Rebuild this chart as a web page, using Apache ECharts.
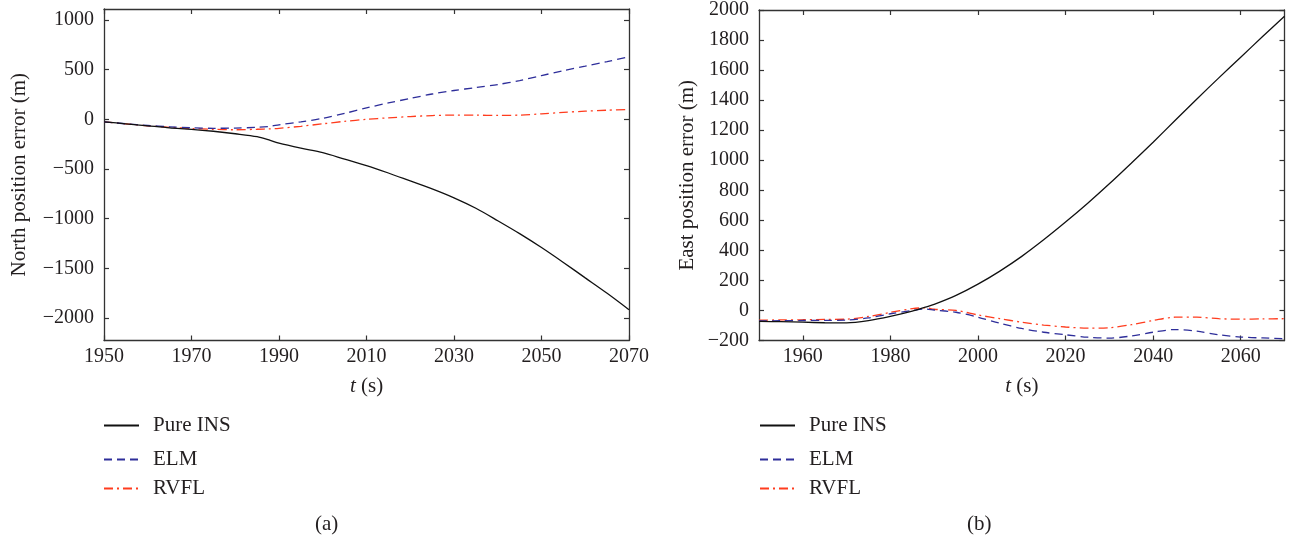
<!DOCTYPE html>
<html>
<head>
<meta charset="utf-8">
<script src="https://cdn.jsdelivr.net/npm/echarts@6/dist/echarts.min.js"></script>
<style>html,body{margin:0;padding:0;background:#fff}#c{width:1292px;height:543px}</style>
</head>
<body>
<div id="c"></div>
<script>
// time stamps (s)
const times = [1950,1955,1960,1965,1970,1975,1980,1985,1988,1990,1995,2000,2005,2010,2015,2020,2025,2030,2035,2040,2045,2050,2055,2060,2065,2070];

// (a) North position error (m)
const northINS  = [-25,-45,-65,-85,-100,-120,-145,-175,-212,-240,-290,-335,-400,-465,-540,-620,-700,-790,-895,-1020,-1150,-1290,-1440,-1595,-1750,-1915];
const northELM  = [-25,-45,-62,-75,-85,-90,-88,-80,-70,-55,-25,10,60,115,165,210,255,290,320,350,390,440,490,535,580,630];
const northRVFL = [-25,-45,-65,-80,-92,-100,-105,-100,-95,-90,-70,-45,-20,0,15,28,38,43,42,40,42,55,70,82,92,100];

// (b) East position error (m)
const eastINS  = [-73,-75,-78,-82,-83,-68,-40,-5,22,40,100,175,262,360,470,588,712,843,980,1120,1264,1408,1548,1686,1823,1958];
const eastELM  = [-70,-68,-67,-66,-64,-50,-22,0,10,3,-12,-45,-85,-120,-145,-162,-178,-184,-170,-145,-127,-138,-162,-177,-183,-188];
const eastRVFL = [-65,-63,-62,-60,-58,-40,-13,12,18,8,0,-30,-55,-78,-97,-110,-118,-115,-95,-67,-45,-45,-55,-58,-56,-55];

// tick labels
const northXTicks = [1950,1970,1990,2010,2030,2050,2070];
const northYTicks = [-2000,-1500,-1000,-500,0,500,1000];
const eastXTicks  = [1960,1980,2000,2020,2040,2060];
const eastYTicks  = [-200,0,200,400,600,800,1000,1200,1400,1600,1800,2000];

const seriesNames = ['Pure INS','ELM','RVFL'];
const pair = (v) => times.map((t,i)=>[t,v[i]]);

const FONT = 'Liberation Serif';
const TXT = '#231f20';
const AX = '#333333';
const COLORS = ['#111111','#2e2e9a','#ff3c1e'];
const TYPES = ['solid',[8,5],[9,4,2,4]];
const fmt = v => String(v).replace('-', '\u2212');

function xAx(gi, ticks, pos, labels) {
  return {
    type:'value', gridIndex:gi, position:pos, min:1950, max:2070,
    axisLine:{show:true, onZero:false, lineStyle:{color:AX, width:1.3}},
    axisTick:{show:true, inside:true, length:5, customValues:ticks, lineStyle:{color:AX, width:1.2}},
    axisLabel:{show:labels, customValues:ticks, margin:6, fontFamily:FONT, fontSize:20, color:TXT, formatter:fmt},
    splitLine:{show:false},
    name: labels ? '{i|t} (s)' : '',
    nameLocation:'middle', nameGap:35,
    nameTextStyle:{fontFamily:FONT, fontSize:21, color:TXT, rich:{i:{fontStyle:'italic', fontFamily:FONT, fontSize:21, color:TXT}}}
  };
}
function yAx(gi, ticks, pos, labels, min, max, name, gap) {
  return {
    type:'value', gridIndex:gi, position:pos, min:min, max:max,
    axisLine:{show:true, onZero:false, lineStyle:{color:AX, width:1.3}},
    axisTick:{show:true, inside:true, length:5, customValues:ticks, lineStyle:{color:AX, width:1.2}},
    axisLabel:{show:labels, customValues:ticks, margin:10, fontFamily:FONT, fontSize:20, color:TXT, formatter:fmt},
    splitLine:{show:false},
    name: labels ? name : '', nameLocation:'middle', nameGap:gap, nameRotate:90,
    nameTextStyle:{fontFamily:FONT, fontSize:21, color:TXT}
  };
}

function mkSeries(xi, yi, arrs) {
  return arrs.map((a,k)=>({
    name:seriesNames[k], type:'line', xAxisIndex:xi, yAxisIndex:yi,
    data:pair(a), symbol:'none', smooth:0.3, silent:true, animation:false,
    lineStyle:{color:COLORS[k], width:1.3, type:TYPES[k]}, itemStyle:{color:COLORS[k]},
    z: 3-k
  }));
}

const legendRows = [425, 459, 488];
const legends = [];
[103, 759].forEach(lx => {
  seriesNames.forEach((n,k)=>{
    legends.push({
      data:[n], left:lx, top:legendRows[k]-10, padding:0, itemWidth:35, itemHeight:14, itemGap:14,
      selectedMode:false, orient:'horizontal',
      itemStyle:{color:'rgba(0,0,0,0)', borderWidth:0, opacity:0},
      textStyle:{fontFamily:FONT, fontSize:21, color:TXT, padding:[0,0,0,9]}
    });
  });
});

const chart = echarts.init(document.getElementById('c'), null, {renderer:'canvas'});
chart.setOption({
  backgroundColor:'#fff',
  animation:false,
  grid:[
    {left:104, top:9, width:525, height:331.5},
    {left:759, top:9, width:525.5, height:331.5}
  ],
  xAxis:[
    xAx(0, northXTicks, 'bottom', true),
    xAx(0, northXTicks, 'top', false),
    xAx(1, eastXTicks, 'bottom', true),
    xAx(1, eastXTicks, 'top', false)
  ],
  yAxis:[
    yAx(0, northYTicks, 'left', true, -2225, 1110, 'North position error (m)', 74),
    yAx(0, northYTicks, 'right', false, -2225, 1110, '', 0),
    yAx(1, eastYTicks, 'left', true, -200, 2000, 'East position error (m)', 61),
    yAx(1, eastYTicks, 'right', false, -200, 2000, '', 0)
  ],
  legend: legends,
  series: [].concat(
    mkSeries(0, 0, [northINS, northELM, northRVFL]),
    mkSeries(2, 2, [eastINS, eastELM, eastRVFL])
  ),
  graphic:[
    {type:'text', left:315, top:514, style:{text:'(a)', font:'21px "Liberation Serif"', fill:TXT}},
    {type:'text', left:967, top:514, style:{text:'(b)', font:'21px "Liberation Serif"', fill:TXT}}
  ]
});
</script>
</body>
</html>
